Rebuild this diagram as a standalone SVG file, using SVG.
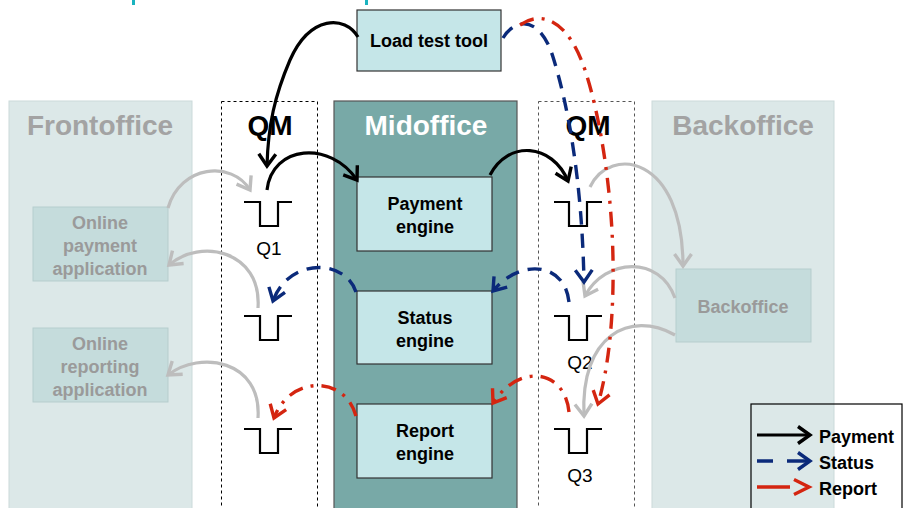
<svg xmlns="http://www.w3.org/2000/svg" width="903" height="508" viewBox="0 0 903 508">
<style>
text{font-family:"Liberation Sans",Arial,sans-serif;}
.title{font-size:28px;font-weight:bold;text-anchor:middle;}
.lbl{font-size:18px;font-weight:bold;text-anchor:middle;fill:#000;}
.glbl{font-size:18px;font-weight:bold;text-anchor:middle;fill:#9a9a9a;}
.q{font-size:19px;text-anchor:middle;fill:#000;}
.panel{fill:#dce8e8;stroke:#cbdada;stroke-width:1;}
.gbox{fill:#c5dcdc;stroke:#b6cdcd;stroke-width:1;}
.eng{fill:#c5e6e8;stroke:#333;stroke-width:1.2;}
.qm{fill:none;stroke-width:1;stroke-dasharray:3,3;}
.queue{fill:none;stroke:#000;stroke-width:2.2;}
.pay{fill:none;stroke:#000;stroke-width:3.2;}
.sta{fill:none;stroke:#0b2a7a;stroke-width:3.4;stroke-dasharray:14,9;}
.rep{fill:none;stroke:#d42510;stroke-width:3.4;stroke-dasharray:15,8,3,8;}
.gry{fill:none;stroke:#bdbdbd;stroke-width:3.2;}
</style>
<defs>
<marker id="mk" markerUnits="userSpaceOnUse" viewBox="0 0 24 24" markerWidth="24" markerHeight="24" refX="18" refY="12" orient="auto"><path d="M6,3.5 L18,12 L6,20.5" fill="none" stroke="#000" stroke-width="3.4"/></marker>
<marker id="mb" markerUnits="userSpaceOnUse" viewBox="0 0 24 24" markerWidth="24" markerHeight="24" refX="18" refY="12" orient="auto"><path d="M6,3.5 L18,12 L6,20.5" fill="none" stroke="#0b2a7a" stroke-width="3.4"/></marker>
<marker id="mr" markerUnits="userSpaceOnUse" viewBox="0 0 24 24" markerWidth="24" markerHeight="24" refX="18" refY="12" orient="auto"><path d="M6,3.5 L18,12 L6,20.5" fill="none" stroke="#d42510" stroke-width="3.4"/></marker>
<marker id="mg" markerUnits="userSpaceOnUse" viewBox="0 0 24 24" markerWidth="24" markerHeight="24" refX="18" refY="12" orient="auto"><path d="M6,3.5 L18,12 L6,20.5" fill="none" stroke="#bdbdbd" stroke-width="3.4"/></marker>
</defs>
<rect x="0" y="0" width="903" height="508" fill="#fff"/>
<rect x="132" y="0" width="3" height="5" fill="#1ab3bf"/>
<rect x="365" y="0" width="3" height="5" fill="#1ab3bf"/>

<g id="frontoffice">
<rect class="panel" x="9" y="101" width="183" height="412"/>
<text class="title" x="100" y="135" fill="#a3a3a3">Frontoffice</text>
</g>
<g id="online-payment">
<rect class="gbox" x="33" y="207" width="135" height="74"/>
<text class="glbl" x="100" y="229">Online</text>
<text class="glbl" x="100" y="252">payment</text>
<text class="glbl" x="100" y="275">application</text>
</g>
<g id="online-reporting">
<rect class="gbox" x="33" y="328" width="135" height="74"/>
<text class="glbl" x="100" y="350">Online</text>
<text class="glbl" x="100" y="373">reporting</text>
<text class="glbl" x="100" y="396">application</text>
</g>

<g id="qm-left">
<rect class="qm" x="221.5" y="101.5" width="96" height="412" stroke="#000"/>
<text class="title" x="270" y="135" fill="#000">QM</text>
</g>
<g id="q1-left">
<path class="queue" d="M244,202 H260 V226 H278 V202 H292"/>
<text class="q" x="269" y="255">Q1</text>
</g>
<g id="q2-left"><path class="queue" d="M244,316 H260 V340 H278 V316 H292"/></g>
<g id="q3-left"><path class="queue" d="M244,429 H260 V453 H278 V429 H292"/></g>

<g id="midoffice">
<rect x="334" y="101" width="183" height="412" fill="#78a9a7" stroke="#555" stroke-width="1.2"/>
<text class="title" x="426" y="135" fill="#fff">Midoffice</text>
</g>
<g id="payment-engine">
<rect class="eng" x="357" y="177" width="135" height="74"/>
<text class="lbl" x="425" y="210">Payment</text>
<text class="lbl" x="425" y="233">engine</text>
</g>
<g id="status-engine">
<rect class="eng" x="357" y="291" width="135" height="73"/>
<text class="lbl" x="425" y="324">Status</text>
<text class="lbl" x="425" y="347">engine</text>
</g>
<g id="report-engine">
<rect class="eng" x="357" y="404" width="135" height="74"/>
<text class="lbl" x="425" y="437">Report</text>
<text class="lbl" x="425" y="460">engine</text>
</g>

<g id="qm-right">
<rect class="qm" x="538.5" y="101.5" width="96" height="412" stroke="#555"/>
<text class="title" x="588" y="135" fill="#000">QM</text>
</g>
<g id="q1-right"><path class="queue" d="M554,202 H569 V226 H587 V202 H602"/></g>
<g id="q2-right">
<path class="queue" d="M554,316 H569 V340 H587 V316 H602"/>
<text class="q" x="580" y="369">Q2</text>
</g>
<g id="q3-right">
<path class="queue" d="M554,429 H569 V453 H587 V429 H602"/>
<text class="q" x="580" y="482">Q3</text>
</g>

<g id="backoffice">
<rect class="panel" x="652" y="101" width="182" height="412"/>
<text class="title" x="743" y="135" fill="#a3a3a3">Backoffice</text>
</g>
<g id="backoffice-box">
<rect class="gbox" x="676" y="269" width="135" height="73"/>
<text class="glbl" x="743" y="313">Backoffice</text>
</g>

<g id="load-test-tool">
<rect x="357" y="10" width="144" height="61" fill="#c5e6e8" stroke="#333" stroke-width="1.2"/>
<text class="lbl" x="429" y="47">Load test tool</text>
</g>

<g id="connectors">
<path class="gry" d="M168,208 C180,165 232,160 250,190" marker-end="url(#mg)"/>
<path class="gry" d="M258,308 C262,250 200,238 169,265" marker-end="url(#mg)"/>
<path class="gry" d="M258,418 C262,360 200,350 168,375" marker-end="url(#mg)"/>
<path class="gry" d="M590,187 C610,145 683,155 683,266" marker-end="url(#mg)"/>
<path class="gry" d="M675,298 C660,255 605,258 585,296" marker-end="url(#mg)"/>
<path class="gry" d="M675,335 C630,310 580,335 584,416" marker-end="url(#mg)"/>

<path class="pay" d="M358,37 C345,15 310,15 290,60 C275,95 268,125 267,166" marker-end="url(#mk)"/>
<path class="pay" d="M267,190 C272,145 330,140 357,180" marker-end="url(#mk)"/>
<path class="pay" d="M490,175 C508,140 552,143 568,181" marker-end="url(#mk)"/>

<path class="sta" d="M503,38 C515,18 540,15 553,57 C568,105 582,180 584,282" marker-end="url(#mb)"/>
<path class="sta" d="M569,302 C565,262 520,258 493,291" marker-end="url(#mb)"/>
<path class="sta" d="M356,292 C345,258 288,258 273,301" marker-end="url(#mb)"/>

<path class="rep" d="M520,25 C545,8 570,25 585,70 C600,115 612,190 613,260 C614,320 608,370 598,404" marker-end="url(#mr)"/>
<path class="rep" d="M569,412 C565,370 520,362 493,403" marker-end="url(#mr)"/>
<path class="rep" d="M356,416 C345,375 290,375 274,418" marker-end="url(#mr)"/>
</g>

<g id="legend">
<rect x="751" y="404" width="151" height="110" fill="none" stroke="#000" stroke-width="1.2"/>
<path d="M757,435 H810" fill="none" stroke="#000" stroke-width="3.2" marker-end="url(#mk)"/>
<path d="M757,461 H773 M787,461 H810" fill="none" stroke="#0b2a7a" stroke-width="3.4" marker-end="url(#mb)"/>
<path d="M757,487 H790" fill="none" stroke="#d42510" stroke-width="3.4"/>
<path d="M794,479.5 L809,487 L794,494.5" fill="none" stroke="#d42510" stroke-width="3.4"/>
<text class="lbl" x="819" y="443" style="text-anchor:start">Payment</text>
<text class="lbl" x="819" y="469" style="text-anchor:start">Status</text>
<text class="lbl" x="819" y="495" style="text-anchor:start">Report</text>
</g>
</svg>
